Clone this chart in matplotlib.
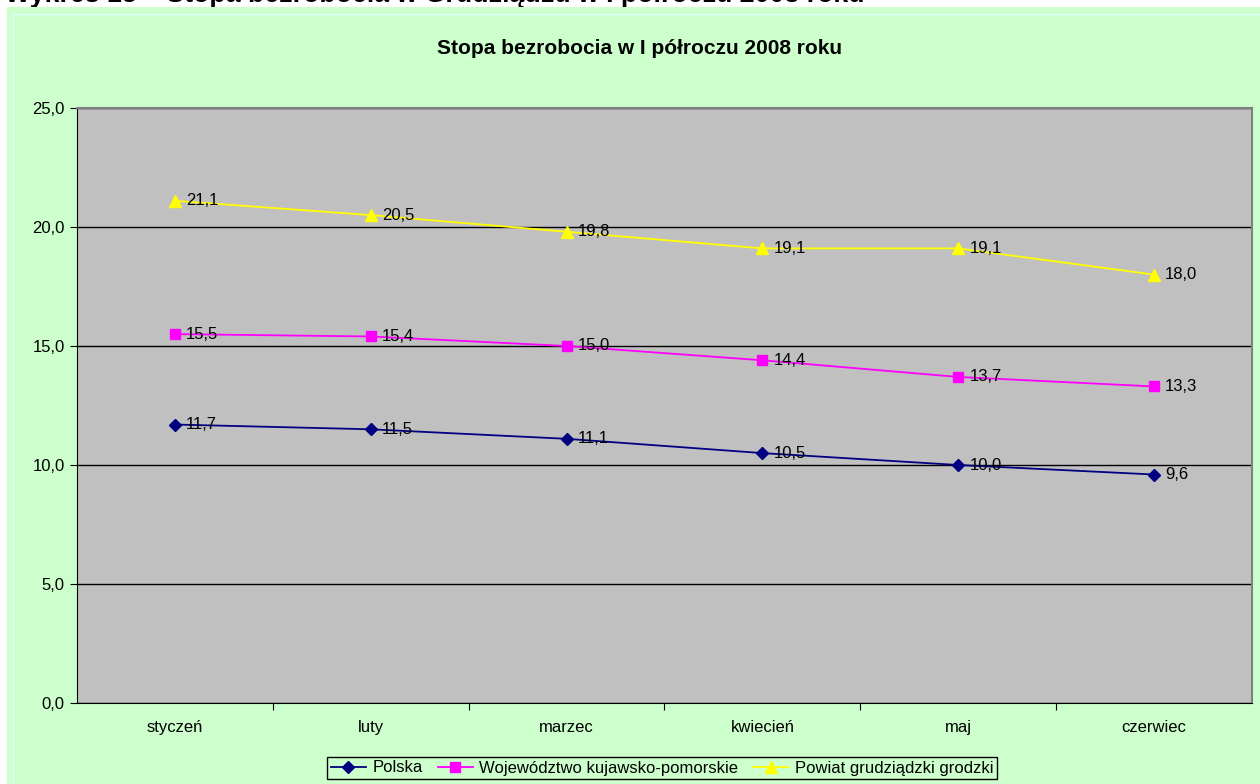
#!/usr/bin/env python3
# -*- coding: utf-8 -*-

import matplotlib
matplotlib.use("Agg")
import matplotlib.pyplot as plt
from matplotlib.patches import Rectangle

# ==================== ------ DATA ------- ====================
months = ["styczeń", "luty", "marzec", "kwiecień", "maj", "czerwiec"]
polska = [11.7, 11.5, 11.1, 10.5, 10.0, 9.6]
kujawsko = [15.5, 15.4, 15.0, 14.4, 13.7, 13.3]
grudziadz = [21.1, 20.5, 19.8, 19.1, 19.1, 18.0]
series_names = ["Polska", "Województwo kujawsko-pomorskie", "Powiat grudziądzki grodzki"]
y_ticks = [0, 5, 10, 15, 20, 25]

plt.rcParams['font.family'] = ['Liberation Sans', 'DejaVu Sans']

W, H = 1260, 784
fig = plt.figure(figsize=(W / 100, H / 100), dpi=100, facecolor="white")

# green chart area + thin light border
fig.patches.append(Rectangle((7 / W, 0), 1 - 7 / W, 1 - 7 / H, transform=fig.transFigure,
                             facecolor="#CCFFCC", edgecolor="none", zorder=-10))
fig.patches.append(Rectangle((13 / W, -0.01), 1, 1 - 14 / H + 0.01, transform=fig.transFigure,
                             facecolor="none", edgecolor="#DDFFFF", lw=1, zorder=-9))

# caption of the page, cut by the top edge as in the source
fig.text(5 / W, 1 - 2 / H, "Wykres 13 – Stopa bezrobocia w Grudziądzu w I półroczu 2008 roku",
         fontsize=19.3, fontweight="bold", va="baseline", ha="left", zorder=-11)

ax = fig.add_axes([77 / W, 81 / H, 1175 / W, 595 / H])
ax.set_facecolor("#C0C0C0")

x = list(range(len(months)))
styles = [
    (polska, "#000080", "D", 6),
    (kujawsko, "#FF00FF", "s", 7),
    (grudziadz, "#FFFF00", "^", 8),
]
for (vals, col, mk, ms), name in zip(styles, series_names):
    ax.plot(x, vals, color=col, marker=mk, markersize=ms, lw=1.3, label=name,
            markeredgecolor=col, zorder=3)
    for xi, v in zip(x, vals):
        ax.annotate(f"{v:.1f}".replace(".", ","), (xi, v), xytext=(8, 0),
                    textcoords="offset points", va="center", ha="left", fontsize=12, zorder=4)

ax.set_xlim(-0.5, len(months) - 0.5)
ax.set_ylim(0, 25)
ax.set_yticks(y_ticks)
ax.set_yticklabels([f"{t:.1f}".replace(".", ",") for t in y_ticks], fontsize=12)
ax.yaxis.grid(True, color="black", lw=1)
ax.set_axisbelow(True)

ax.set_xticks([i + 0.5 for i in range(len(months) - 1)])
ax.set_xticklabels([])
ax.set_xticks(x, minor=True)
ax.set_xticklabels(months, minor=True, fontsize=12)
ax.tick_params(axis="x", which="major", direction="out", length=5, color="black")
ax.tick_params(axis="x", which="minor", length=0, pad=12)
ax.tick_params(axis="y", direction="out", length=5, pad=4)

for s in ["left", "bottom"]:
    ax.spines[s].set_color("black")
for s in ["top", "right"]:
    ax.spines[s].set_color("#808080")
    ax.spines[s].set_linewidth(1.5)

fig.text(640 / W, 1 - 48 / H, "Stopa bezrobocia w I półroczu 2008 roku",
         fontsize=15, fontweight="bold", ha="center", va="center")

leg = fig.legend(loc="center", bbox_to_anchor=(662 / W, 16 / H), ncol=3, fontsize=12,
                 frameon=True, fancybox=False, edgecolor="black", facecolor="#CCFFCC",
                 framealpha=1, handlelength=2.1, handletextpad=0.4, columnspacing=0.9,
                 borderpad=0.2, borderaxespad=0)
leg.get_frame().set_linewidth(1)

fig.savefig("out.png", dpi=100, facecolor="white")
